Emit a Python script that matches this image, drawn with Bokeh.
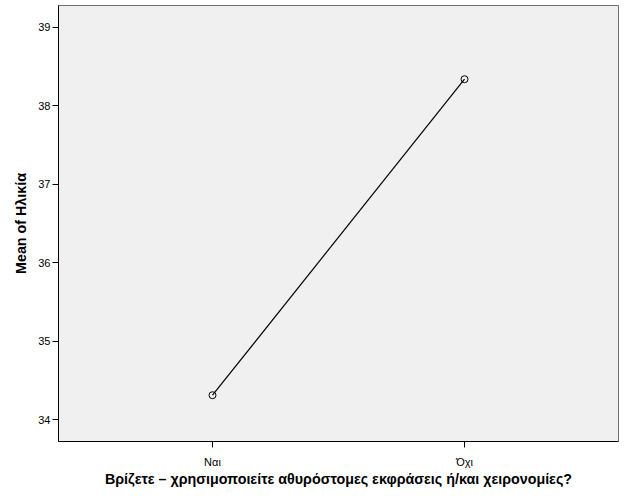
from bokeh.plotting import figure
from bokeh.models import FixedTicker, Range1d
from bokeh.embed import file_html
from bokeh.resources import INLINE

categories = ["Ναι", "Όχι"]
means = [34.31, 38.34]
y_ticks = [34, 35, 36, 37, 38, 39]

xs = list(range(len(categories)))

p = figure(frame_width=560, frame_height=436, output_backend="svg", toolbar_location=None,
           x_range=Range1d(-0.611, 1.611), y_range=Range1d(33.72, 39.28),
           min_border_left=58, min_border_top=5, min_border_right=4, min_border_bottom=10)
p.background_fill_color = "#F0F0F0"
p.border_fill_color = "white"
p.outline_line_color = "#707070"
p.outline_line_width = 1
p.xgrid.grid_line_color = None
p.ygrid.grid_line_color = None

p.line(xs, means, line_color="black", line_width=1.2)
p.scatter(xs, means, size=7, fill_color=None, line_color="black", line_width=1)

p.xaxis.ticker = FixedTicker(ticks=xs)
p.xaxis.major_label_overrides = {i: c for i, c in enumerate(categories)}
p.yaxis.ticker = FixedTicker(ticks=y_ticks)
for ax in (p.xaxis, p.yaxis):
    ax.axis_line_color = "black"
    ax.major_tick_line_color = "black"
    ax.major_tick_out = 6
    ax.major_tick_in = 0
    ax.minor_tick_line_color = None
    ax.major_label_text_font = "Liberation Sans"
    ax.major_label_text_font_size = "11px"
    ax.major_label_text_color = "black"
    ax.axis_label_text_font = "Liberation Sans"
    ax.axis_label_text_font_size = "14.3px"
    ax.axis_label_text_font_style = "bold"
    ax.axis_label_text_color = "black"
p.xaxis.axis_label = "Βρίζετε – χρησιμοποιείτε αθυρόστομες εκφράσεις ή/και χειρονομίες?"
p.yaxis.axis_label = "Mean of Ηλικία"
p.xaxis.major_label_standoff = 8
p.yaxis.major_label_standoff = 2
p.xaxis.axis_label_standoff = 0
p.yaxis.axis_label_standoff = 6

open("out.html", "w").write(file_html(p, INLINE))
